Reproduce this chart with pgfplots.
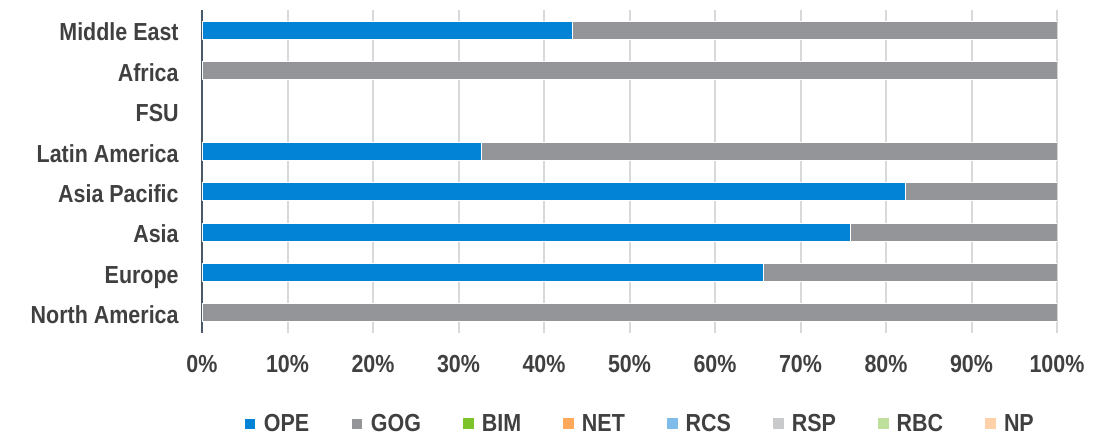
\documentclass[border=0pt]{standalone}
\usepackage{fontspec}
\setmainfont{Liberation Sans}[FakeStretch=0.87]
\usepackage{pgfplots}
\pgfplotsset{compat=1.18}

\definecolor{ope}{HTML}{0283D6}
\definecolor{gog}{HTML}{939598}
\definecolor{bim}{HTML}{7DC42C}
\definecolor{net}{HTML}{FFA85A}
\definecolor{rcs}{HTML}{80BCEA}
\definecolor{rsp}{HTML}{C9CACC}
\definecolor{rbc}{HTML}{BFE09C}
\definecolor{np}{HTML}{FFD1A8}
\definecolor{gridgray}{HTML}{D9D9D9}
\definecolor{axisline}{HTML}{4A5A6A}
\definecolor{txt}{HTML}{404040}

% grid under the bars, left axis line over them
\pgfplotsset{
  layers/barsfirst/.define layer set={axis background,axis grid,pre main,main,axis ticks,axis lines,axis tick labels,axis descriptions,axis foreground}{},
  seg/.style={fill=#1, draw=white, line width=0.75pt,
    legend image code/.code={\fill[fill=#1] (0pt,-4pt) rectangle (8pt,4pt);}},
  nobar/.style={fill=#1, draw=none,
    legend image code/.code={\fill[fill=#1] (0pt,-4pt) rectangle (8pt,4pt);}},
}
\newcommand{\lab}{\bfseries\fontsize{18.5}{22}\selectfont}

\begin{document}
\begin{tikzpicture}
\begin{axis}[
  set layers=barsfirst,
  at={(0pt,0pt)}, anchor=south west,
  scale only axis, width=641.25pt, height=242.25pt,
  xbar stacked, bar width=13.5pt,
  xmin=0, xmax=100, ymin=-0.5, ymax=7.5,
  xtick={0,10,...,100},
  xticklabels={0\%,10\%,20\%,30\%,40\%,50\%,60\%,70\%,80\%,90\%,100\%},
  ytick={0,...,7},
  yticklabels={North America,Europe,Asia,Asia Pacific,Latin America,FSU,Africa,Middle East},
  major tick length=0pt,
  xmajorgrids, grid style={color=gridgray, line width=1.5pt},
  axis x line*=bottom, x axis line style={draw=none},
  axis y line*=left, y axis line style={color=axisline, line width=1.5pt},
  tick label style={font=\lab, text=txt},
  xticklabel style={yshift=-13.5pt},
  yticklabel style={xshift=-14pt, yshift=-4.5pt, text height=0.72em, text depth=0pt},
  legend columns=8,
  legend style={at={(0.049,-0.281)}, anchor=west, draw=none, fill=none,
    inner sep=0pt, nodes={inner sep=0pt}, font=\lab, text=txt,
    /tikz/every odd column/.append style={column sep=6pt},
    /tikz/every even column/.append style={column sep=31.6pt}},
]
\addplot[seg=ope] coordinates {(0,0) (65.7,1) (75.8,2) (82.3,3) (32.7,4) (0,5) (0,6) (43.3,7)};
\addlegendentry{OPE}
\addplot[seg=gog] coordinates {(100,0) (34.3,1) (24.2,2) (17.7,3) (67.3,4) (0,5) (100,6) (56.7,7)};
\addlegendentry{GOG}
\addplot[nobar=bim] coordinates {(0,0) (0,1) (0,2) (0,3) (0,4) (0,5) (0,6) (0,7)};
\addlegendentry{BIM}
\addplot[nobar=net] coordinates {(0,0) (0,1) (0,2) (0,3) (0,4) (0,5) (0,6) (0,7)};
\addlegendentry{NET}
\addplot[nobar=rcs] coordinates {(0,0) (0,1) (0,2) (0,3) (0,4) (0,5) (0,6) (0,7)};
\addlegendentry{RCS}
\addplot[nobar=rsp] coordinates {(0,0) (0,1) (0,2) (0,3) (0,4) (0,5) (0,6) (0,7)};
\addlegendentry{RSP}
\addplot[nobar=rbc] coordinates {(0,0) (0,1) (0,2) (0,3) (0,4) (0,5) (0,6) (0,7)};
\addlegendentry{RBC}
\addplot[nobar=np] coordinates {(0,0) (0,1) (0,2) (0,3) (0,4) (0,5) (0,6) (0,7)};
\addlegendentry{NP}
\end{axis}
\path (-151.5pt,-78.75pt) rectangle (678pt,249.75pt);
\end{tikzpicture}
\end{document}
